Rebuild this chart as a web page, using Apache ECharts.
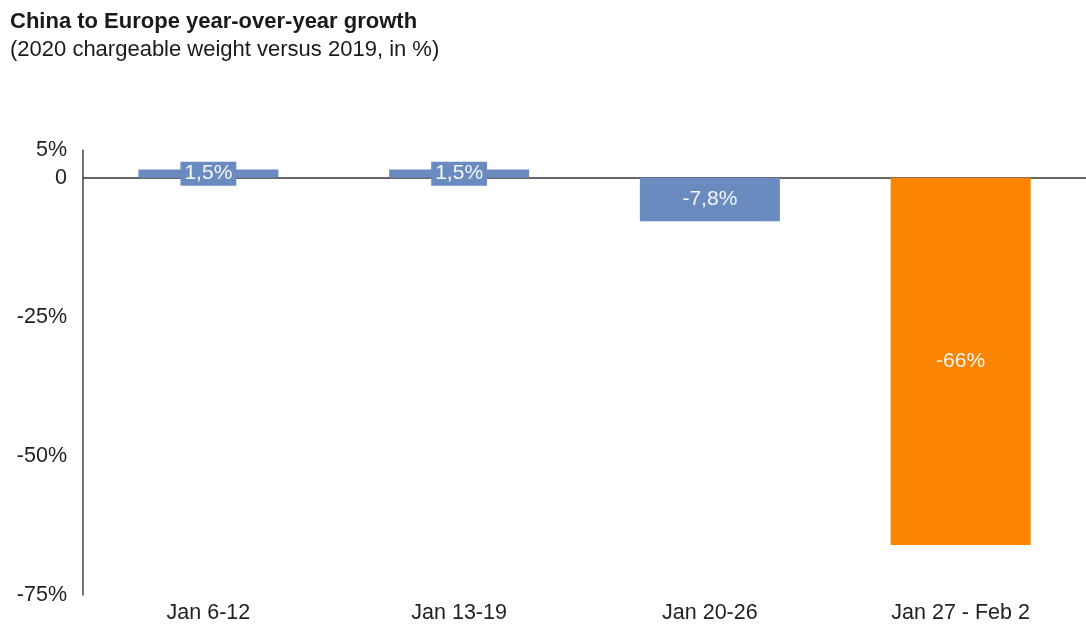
<!DOCTYPE html>
<html>
<head>
<meta charset="utf-8">
<script src="https://cdn.jsdelivr.net/npm/echarts@6/dist/echarts.min.js"></script>
<style>html,body{margin:0;padding:0;background:#fff;}#c{width:1086px;height:628px;}</style>
</head>
<body>
<div id="c"></div>
<script>
const categories = ['Jan 6-12', 'Jan 13-19', 'Jan 20-26', 'Jan 27 - Feb 2'];
const growth = [1.5, 1.5, -7.8, -66];
const barColors = ['#6a8bbf', '#6a8bbf', '#6a8bbf', '#fb8500'];
const yTickValues = [5, 0, -25, -50, -75];
const yTickLabels = ['5%', '0', '-25%', '-50%', '-75%'];

const fmt = v => String(v).replace('.', ',') + '%';
const FONT = '"Liberation Sans", Arial, sans-serif';

const chart = echarts.init(document.getElementById('c'));
chart.setOption({
  animation: false,
  textStyle: { fontFamily: FONT },
  title: [
    { text: 'China to Europe year-over-year growth', left: 5, top: 6,
      textStyle: { fontFamily: FONT, fontSize: 22, fontWeight: 'bold', color: '#1a1a1a' } },
    { text: '(2020 chargeable weight versus 2019, in %)', left: 5, top: 34,
      textStyle: { fontFamily: FONT, fontSize: 22, fontWeight: 'normal', color: '#1a1a1a' } }
  ],
  grid: { left: 83, right: -3, top: 150, bottom: 33 },
  xAxis: {
    type: 'category',
    data: categories,
    axisLine: { show: false },
    axisTick: { show: false },
    axisLabel: { fontFamily: FONT, fontSize: 21.5, color: '#222', margin: 7 }
  },
  yAxis: {
    type: 'value',
    min: -75, max: 5, interval: 5,
    splitLine: { show: false },
    axisTick: { show: false },
    axisLine: { show: true, lineStyle: { color: '#444', width: 1.5 } },
    axisLabel: {
      fontFamily: FONT, fontSize: 21.5, color: '#222', margin: 16,
      formatter: v => { const i = yTickValues.indexOf(v); return i >= 0 ? yTickLabels[i] : ''; }
    }
  },
  series: [{
    type: 'bar',
    barWidth: 140,
    data: growth.map((v, i) => ({ value: v, itemStyle: { color: barColors[i] } })),
    label: {
      show: true,
      position: 'inside',
      fontFamily: FONT,
      fontSize: 21,
      color: '#f4f6fb',
      formatter: p => fmt(p.value),
      backgroundColor: 'inherit',
      padding: [2, 4, 1, 4]
    },
    markLine: {
      silent: true,
      symbol: 'none',
      label: { show: false },
      lineStyle: { color: '#333', width: 1.5, type: 'solid' },
      data: [{ yAxis: 0 }],
      z: 1
    },
    z: 2
  }]
});
</script>
</body>
</html>
